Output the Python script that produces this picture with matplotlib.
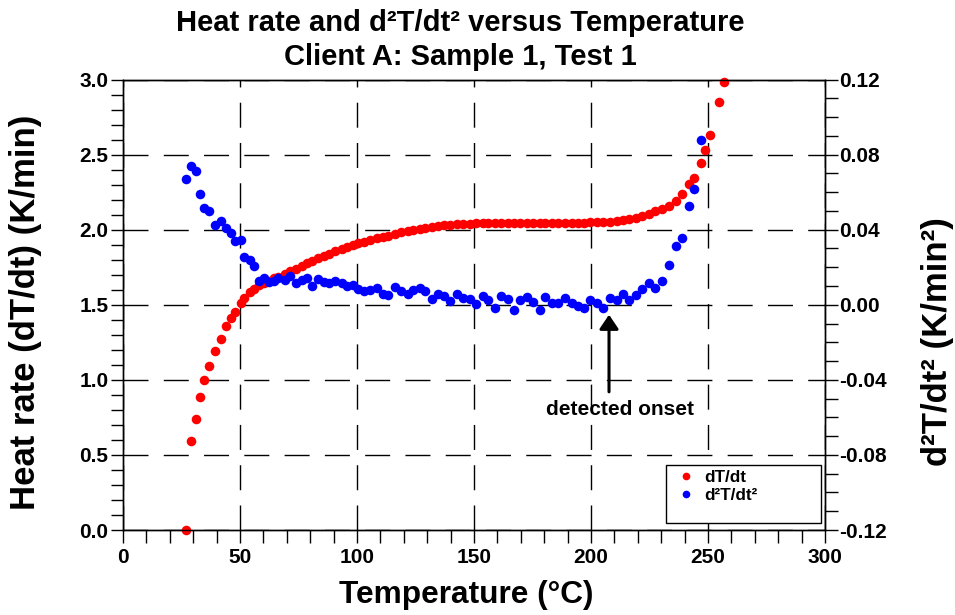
import numpy as np
import matplotlib
matplotlib.use("Agg")
import matplotlib.pyplot as plt
from matplotlib.ticker import MultipleLocator, FormatStrFormatter
from matplotlib.patches import Rectangle
from matplotlib.lines import Line2D

# ---------------- data ----------------
temperature = [27.0, 28.9, 31.0, 32.9, 34.8, 36.9, 39.3, 41.7, 44.2, 46.2,
               48.0, 50.3, 51.9, 54.3, 56.0, 58.2, 60.3, 62.5, 64.5, 66.4,
               69.2, 71.4, 73.9, 76.3, 78.8, 80.8, 83.5, 85.7, 88.2, 90.7,
               93.4, 95.6, 98.4, 100.6, 102.9, 105.6, 108.4, 111.0, 113.2, 116.2,
               119.0, 121.9, 124.1, 126.9, 129.1, 131.9, 134.7, 137.2, 139.7, 142.7,
               145.4, 148.3, 150.9, 153.9, 156.1, 159.0, 161.6, 164.5, 167.0, 169.7,
               172.5, 175.4, 178.2, 180.5, 183.5, 186.0, 188.9, 191.7, 194.6, 197.0,
               199.7, 202.5, 205.3, 208.1, 210.9, 213.7, 216.4, 219.1, 221.9, 224.7,
               227.4, 230.2, 233.2, 236.2, 239.0, 241.8, 244.0, 247.0, 248.9, 250.9,
               254.8, 256.8]

heat_rate = [0.000, 0.595, 0.738, 0.889, 0.996, 1.095, 1.189, 1.271, 1.356, 1.411,
             1.455, 1.510, 1.545, 1.585, 1.607, 1.630, 1.645, 1.660, 1.675, 1.688,
             1.707, 1.722, 1.740, 1.757, 1.775, 1.789, 1.808, 1.823, 1.840, 1.856,
             1.872, 1.884, 1.897, 1.908, 1.918, 1.930, 1.942, 1.952, 1.961, 1.972,
             1.982, 1.992, 1.999, 2.007, 2.013, 2.019, 2.024, 2.028, 2.032, 2.035,
             2.038, 2.040, 2.042, 2.043, 2.044, 2.045, 2.045, 2.046, 2.046, 2.046,
             2.046, 2.046, 2.046, 2.046, 2.046, 2.046, 2.046, 2.046, 2.047, 2.047,
             2.048, 2.049, 2.051, 2.054, 2.058, 2.063, 2.070, 2.078, 2.089, 2.105,
             2.122, 2.138, 2.160, 2.189, 2.238, 2.304, 2.347, 2.442, 2.529, 2.629,
             2.853, 2.982]

nan = float("nan")
d2T = [0.0670, 0.0741, 0.0711, 0.0590, 0.0516, 0.0501, 0.0423, 0.0444, 0.0409, 0.0382,
       0.0338, 0.0343, 0.0256, 0.0240, 0.0206, 0.0129, 0.0142, 0.0119, 0.0124, 0.0142,
       0.0133, 0.0155, 0.0116, 0.0133, 0.0140, 0.0098, 0.0137, 0.0119, 0.0116, 0.0124,
       0.0116, 0.0098, 0.0107, 0.0084, 0.0072, 0.0078, 0.0089, 0.0058, 0.0050, 0.0094,
       0.0074, 0.0055, 0.0080, 0.0089, 0.0071, 0.0032, 0.0059, 0.0044, 0.0018, 0.0059,
       0.0036, 0.0030, 0.0004, 0.0046, 0.0027, -0.0016, 0.0044, 0.0030, -0.0027, 0.0026,
       0.0041, 0.0015, -0.0027, 0.0041, 0.0009, 0.0009, 0.0034, 0.0011, -0.0005, -0.0019,
       0.0023, 0.0009, -0.0018, 0.0036, 0.0025, 0.0058, 0.0027, 0.0054, 0.0085, 0.0115,
       0.0087, 0.0128, 0.0213, 0.0311, 0.0356, 0.0528, 0.0617, 0.0878, nan, nan,
       nan, nan]

onset_temp = 207.7
onset_value = -0.0053
arrow_tail_value = -0.0464

x_ticks = [0, 50, 100, 150, 200, 250, 300]
left_ticks = [0.0, 0.5, 1.0, 1.5, 2.0, 2.5, 3.0]
right_ticks = [-0.12, -0.08, -0.04, 0.00, 0.04, 0.08, 0.12]

# ---------------- style ----------------
plt.rcParams['font.family'] = ['Liberation Sans', 'DejaVu Sans']
plt.rcParams['font.weight'] = 'bold'
plt.rcParams['axes.unicode_minus'] = False

W, H = 955, 615
fig = plt.figure(figsize=(W / 100, H / 100), dpi=100)
ax = fig.add_axes([123 / W, 1 - 530 / H, 702 / W, 450.5 / H])
ax2 = ax.twinx()

ax.set_xlim(0, 300)
ax.set_ylim(0, 3.0)
ax2.set_ylim(-0.12, 0.12)

ms = 6.9
ax.plot(temperature, heat_rate, linestyle='none', marker='o', markersize=ms,
        markerfacecolor='#ff0000', markeredgecolor='none', clip_on=False, zorder=3)
ax2.plot(temperature, d2T, linestyle='none', marker='o', markersize=ms,
         markerfacecolor='#0000ff', markeredgecolor='none', clip_on=False, zorder=3)

# grid
ax.set_axisbelow(True)
ax.grid(True, which='major', color='black', linewidth=1.0, linestyle=(0, (18, 11)))

# ticks
ax.set_xticks(x_ticks)
ax.set_yticks(left_ticks)
ax2.set_yticks(right_ticks)
ax.xaxis.set_minor_locator(MultipleLocator(10))
ax.yaxis.set_minor_locator(MultipleLocator(0.1))
ax2.yaxis.set_minor_locator(MultipleLocator(0.01))
ax.yaxis.set_major_formatter(FormatStrFormatter('%.1f'))
ax2.yaxis.set_major_formatter(FormatStrFormatter('%.2f'))
for a in (ax, ax2):
    a.tick_params(which='both', direction='out', length=9, width=1.0, labelsize=15)
ax.tick_params(axis='y', pad=1.5)
ax.tick_params(axis='x', pad=4)
ax2.tick_params(axis='y', pad=1.5)
for a in (ax, ax2):
    for s in a.spines.values():
        s.set_linewidth(1.0)

# labels
fig.text(466 / W, 1 - 595 / H, 'Temperature (°C)', ha='center', va='center',
         fontsize=22.8, fontweight='bold')
fig.text(26 / W, 1 - 312 / H, 'Heat rate (dT/dt) (K/min)', ha='center', va='center',
         rotation=90, fontsize=25, fontweight='bold')
fig.text(937 / W, 1 - 342 / H, 'd²T/dt² (K/min²)', ha='center', va='center',
         rotation=90, fontsize=25, fontweight='bold')
fig.text(460 / W, 1 - 23 / H, 'Heat rate and d²T/dt² versus Temperature',
         ha='center', va='center', fontsize=21, fontweight='bold')
fig.text(460 / W, 1 - 57 / H, 'Client A: Sample 1, Test 1',
         ha='center', va='center', fontsize=21, fontweight='bold')

# annotation
ax2.annotate('', xy=(onset_temp, onset_value), xytext=(onset_temp, arrow_tail_value),
             arrowprops=dict(arrowstyle='-|>,head_length=0.86,head_width=0.58',
                             mutation_scale=10, color='black', lw=2.2,
                             shrinkA=0, shrinkB=0))
ax2.text(212.6, -0.056, 'detected onset', ha='center', va='center',
         fontsize=15, fontweight='bold')

# legend
box = Rectangle((666 / W, 1 - 523 / H), 155 / W, 58 / H, transform=fig.transFigure,
                facecolor='white', edgecolor='black', linewidth=1.0, zorder=4)
fig.add_artist(box)
handles = [Line2D([], [], linestyle='none', marker='o', markersize=5.5,
                  markerfacecolor='#ff0000', markeredgecolor='none'),
           Line2D([], [], linestyle='none', marker='o', markersize=5.5,
                  markerfacecolor='#0000ff', markeredgecolor='none')]
leg = fig.legend(handles, ['dT/dt', 'd²T/dt²'], loc='upper left',
                 bbox_to_anchor=(672 / W, 1 - 467 / H), frameon=False,
                 fontsize=12.3, handlelength=1.2, handletextpad=0.5,
                 labelspacing=0.15, borderpad=0.2, borderaxespad=0)
leg.set_zorder(5)

fig.savefig('out.png', dpi=100)
